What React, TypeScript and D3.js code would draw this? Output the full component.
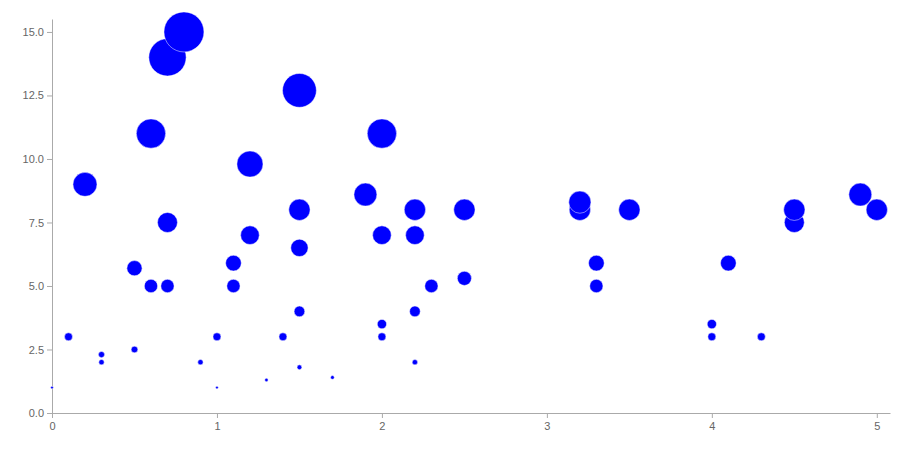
import React, { useEffect, useRef } from "react";
import * as d3 from "d3";

const xValues = [0, 0.1, 0.2, 0.3, 0.3, 0.5, 0.5, 0.6, 0.6, 0.7, 0.7, 0.7, 0.8, 0.9, 1.0, 1.0, 1.1, 1.1, 1.2, 1.2, 1.3, 1.4, 1.5, 1.5, 1.5, 1.5, 1.5, 1.7, 1.9, 2.0, 2.0, 2.0, 2.0, 2.2, 2.2, 2.2, 2.2, 2.3, 2.5, 2.5, 3.2, 3.2, 3.3, 3.3, 3.5, 4.0, 4.0, 4.1, 4.3, 4.5, 4.5, 4.9, 5.0];
const yValues = [1, 3, 9, 2.3, 2, 2.5, 5.7, 5, 11, 5, 7.5, 14, 15, 2, 1, 3, 5, 5.9, 7, 9.8, 1.3, 3, 1.8, 4, 6.5, 8, 12.7, 1.4, 8.6, 3, 3.5, 7, 11, 2, 4, 7, 8, 5, 5.3, 8, 8, 8.3, 5, 5.9, 8, 3, 3.5, 5.9, 3, 7.5, 8, 8.6, 8];
const xTicks = [0, 1, 2, 3, 4, 5];
const yTicks = [0, 2.5, 5, 7.5, 10, 12.5, 15];

const W = 900, H = 452;
const M = { left: 52, right: 10, top: 19, bottom: 39 };

export default function App() {
  const ref = useRef<SVGSVGElement>(null);
  useEffect(() => {
    const svg = d3.select(ref.current);
    svg.selectAll("*").remove();
    const x = d3.scaleLinear().domain([0, 5.08]).range([M.left, W - M.right]);
    const y = d3.scaleLinear().domain([0, 15.51]).range([H - M.bottom, M.top]);
    const r = d3.scaleLinear().domain([0, 15]).range([0, 20]);

    const data = xValues.map((v, i) => ({ x: v, y: yValues[i] }));

    const gx = svg.append("g").attr("transform", `translate(0,${H - M.bottom})`)
      .call(d3.axisBottom(x).tickValues(xTicks).tickFormat(d3.format("d")).tickSize(5).tickSizeOuter(0));
    const gy = svg.append("g").attr("transform", `translate(${M.left},0)`)
      .call(d3.axisLeft(y).tickValues(yTicks).tickFormat(d3.format(".1f")).tickSize(5).tickSizeOuter(0));
    [gx, gy].forEach((g) => {
      g.selectAll("path,line").attr("stroke", "#aaa").attr("stroke-width", 1);
      g.selectAll("text").attr("fill", "#666").attr("font-size", 11).attr("font-family", "Liberation Sans, Arial, sans-serif");
    });
    gx.selectAll("text").attr("y", 9).attr("dy", "0.71em");

    svg.append("g").selectAll("circle").data(data).join("circle")
      .attr("cx", (d) => x(d.x))
      .attr("cy", (d) => y(d.y))
      .attr("r", (d) => r(d.y))
      .attr("fill", "#0000ff")
      .attr("stroke", "rgba(255,255,255,0.6)")
      .attr("stroke-width", 0.8);
  }, []);
  return (
    <svg ref={ref} width={W} height={H} style={{ position: "absolute", left: 0, top: 0, background: "#fff" }} />
  );
}
